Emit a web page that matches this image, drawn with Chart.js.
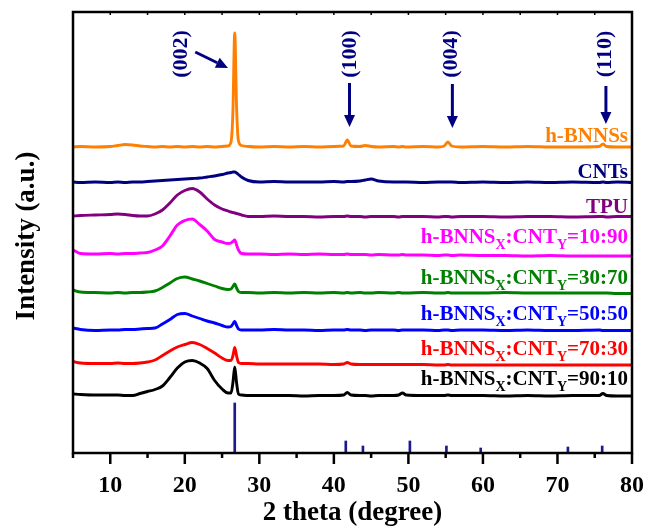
<!DOCTYPE html>
<html>
<head>
<meta charset="utf-8">
<script src="https://cdn.jsdelivr.net/npm/chart.js@4.4.0/dist/chart.umd.min.js"></script>
<style>
  html, body { margin: 0; padding: 0; background: #fff; }
  #wrap { width: 650px; height: 529px; }
</style>
</head>
<body>
<div id="wrap"><canvas id="xrd" width="650" height="529"></canvas></div>
<script>
// 2 theta grid shared by all the patterns
const twoTheta = [5, 6, 8, 10, 11, 12, 13, 14, 15, 16,
  17, 18, 19, 20, 21, 22, 23, 24, 25, 25.8,
  26.2, 26.45, 26.7, 26.95, 27.2, 27.6, 28.5, 30, 32, 34,
  36, 38, 40, 41.3, 41.8, 42.3, 43.5, 44.2, 45, 46,
  48, 48.7, 49.2, 49.7, 52, 54, 54.8, 55.3, 55.8, 57,
  60, 63, 66, 69, 72, 75.6, 76.1, 76.6, 78, 80];

// intensities (a.u., curves already offset)
const bnnsI = [306, 306.5, 306, 306.5, 307.5, 308.5, 308, 307, 306.5, 306,
  306.5, 306, 306.5, 306, 306.5, 306, 306.5, 306, 306.5, 307,
  311, 340, 420, 345, 312, 307.5, 306.5, 306, 306.5, 306,
  306.5, 306, 306.5, 307, 313, 307, 306.5, 307.5, 306.5, 306,
  306.5, 306, 306.5, 306, 306.5, 306, 307, 311, 307, 306,
  306.5, 306, 306.5, 306, 306, 306.5, 309, 306.5, 306, 306];
const cntI = [271, 270.5, 271, 270.5, 271, 270.5, 271, 271, 271.5, 272,
  272.5, 273, 273.5, 274, 274.5, 275, 276, 277, 278.5, 280,
  280.5, 281, 281, 280, 278.5, 276, 272.5, 271, 271.5, 271,
  271, 271, 271.5, 271, 271.5, 271.5, 272, 273, 274, 272,
  271, 271, 271, 271, 270.5, 271, 271, 271, 271, 270.5,
  271, 270.5, 271, 270.5, 271, 270.5, 271, 270.5, 271, 270.5];
const tpuI = [237, 237.5, 238, 238.5, 239, 238.5, 237.5, 237, 237, 239,
  243, 250, 258, 262.5, 264.5, 261, 254, 248, 244, 242,
  241, 240.5, 240, 239.5, 239, 238, 236.5, 236.5, 237, 236.5,
  236.5, 236, 236.5, 236.5, 237, 236.5, 236.5, 236, 236.5, 236.5,
  236.5, 236, 236.5, 236.5, 236.5, 236, 236.5, 236.5, 236, 236.5,
  236.5, 236, 236.5, 236.5, 236, 236.5, 236.5, 236, 236.5, 236.5];
const mix1090 = [203, 199.5, 199, 199.5, 199, 199.5, 199.5, 200, 200.5, 203,
  207, 217, 228, 232.5, 234, 228.5, 222, 213.5, 211, 209.5,
  210, 211.5, 213, 208, 203, 199.5, 199, 199, 198.5, 199,
  198.5, 199, 198.5, 198.5, 199, 198.5, 198.5, 198.5, 198, 198.5,
  198, 198, 198.5, 198, 198, 197.5, 198, 198, 197.5, 198,
  197.5, 197.5, 197, 197.5, 197, 197, 197, 197, 197, 197];
const mix3070 = [163, 161, 160.5, 160, 160.5, 160, 160.5, 160.5, 161, 162,
  165.5, 170, 174.5, 176, 174, 172, 169.5, 167, 164.5, 163.5,
  164, 166.5, 169, 165, 161.5, 160.5, 160.5, 160, 160.5, 160,
  160.5, 160, 160.5, 160, 160.5, 160, 160.5, 160, 160, 160.5,
  160, 160.5, 160, 160, 160.5, 160, 160, 160.5, 160, 160,
  160, 160.5, 160, 160, 160, 160, 160, 160, 159.5, 159.5];
const mix5050 = [125, 123.5, 122.5, 123, 123, 123.5, 123.5, 124, 124.5, 125,
  129, 133.5, 138.5, 139.5, 137, 134.5, 132, 130, 127.5, 126,
  126.5, 129, 131.5, 127.5, 124, 123, 123, 123, 123.5, 123,
  123, 122.5, 123, 123, 123.5, 123, 123, 122.5, 123, 123,
  123, 122.5, 123, 123, 123, 122.5, 123, 123, 122.5, 123,
  123, 122.5, 123, 122.5, 122.5, 123, 122.5, 122.5, 122.5, 122.5];
const mix7030 = [91.5, 90, 89.5, 89.5, 90, 89.5, 89.5, 90, 91, 93,
  97.5, 102, 106, 108.5, 110.5, 108.5, 104.5, 100, 95, 92.5,
  92.5, 97, 105.5, 97, 90.5, 89.5, 89.5, 89, 89, 89,
  89, 89, 88.5, 89, 90.5, 89, 88.5, 88.5, 88.5, 88.5,
  88.5, 88.5, 88.5, 88.5, 88.5, 88, 88, 88.5, 88, 88,
  88, 88, 88, 88, 88, 88, 88, 88, 88, 88];
const mix9010 = [59, 58.5, 58, 58, 58, 57.5, 57.5, 59.5, 61.5, 63.5,
  67, 75.5, 85, 91, 92.5, 90, 84.5, 72.5, 64, 60,
  60, 70, 86, 70, 59, 58, 57.5, 57.5, 57.5, 57.5,
  57, 57.5, 57.5, 58, 60.5, 58, 57.5, 57.5, 57, 57.5,
  57.5, 58, 60, 58, 57.5, 57.5, 57.5, 58, 57.5, 57.5,
  57.5, 57, 57.5, 57, 57.5, 57.5, 59.5, 57.5, 57, 57];

const seriesData = [bnnsI, cntI, tpuI, mix1090, mix3070, mix5050, mix7030, mix9010];
const seriesNames = ['h-BNNSs', 'CNTs', 'TPU',
  'h-BNNS_X:CNT_Y=10:90', 'h-BNNS_X:CNT_Y=30:70', 'h-BNNS_X:CNT_Y=50:50',
  'h-BNNS_X:CNT_Y=70:30', 'h-BNNS_X:CNT_Y=90:10'];
const seriesColors = ['#ff8000', '#000080', '#800080', '#ff00ff', '#008000', '#0000ff', '#ff0000', '#000000'];
const nameY = [311, 275, 240, 210, 169.5, 133, 98, 68];

// reference pattern sticks
const stickPos = [26.7, 41.6, 43.9, 50.2, 55.1, 59.7, 71.4, 76.0];
const stickH = [50, 12, 7, 12, 7, 5, 6, 7];

// x axis ticks
const majorTicks = [10, 20, 30, 40, 50, 60, 70, 80];
const minorTicks = [5, 15, 25, 35, 45, 55, 65, 75];

// plane annotations
const planes = ['(002)', '(100)', '(004)', '(110)'];
const planeX = [19.5, 42.2, 55.8, 76.4];
const planeMidY = 399;
const arrowFrom = [[21.4, 401], [42.1, 370], [55.9, 369], [76.5, 367]];
const arrowTo = [[25.8, 385], [42.1, 326], [55.9, 325], [76.5, 329]];

const serif = '"Liberation Serif", "Times New Roman", serif';

function drawName(ctx, name, right, base, color) {
  const parts = name.split(/_(\w)/);
  const big = 'bold 21px ' + serif, small = 'bold 14px ' + serif;
  let w = 0;
  parts.forEach((p, i) => { ctx.font = i % 2 ? small : big; w += ctx.measureText(p).width; });
  let x = right - w;
  ctx.fillStyle = color;
  ctx.textAlign = 'left';
  ctx.textBaseline = 'alphabetic';
  parts.forEach((p, i) => {
    ctx.font = i % 2 ? small : big;
    ctx.fillText(p, x, i % 2 ? base + 6 : base);
    x += ctx.measureText(p).width;
  });
}

function arrow(ctx, x1, y1, x2, y2) {
  const a = Math.atan2(y2 - y1, x2 - x1);
  const len = 12, hw = 5.5;
  const bx = x2 - len * Math.cos(a), by = y2 - len * Math.sin(a);
  ctx.beginPath();
  ctx.moveTo(x1, y1);
  ctx.lineTo(bx, by);
  ctx.stroke();
  ctx.beginPath();
  ctx.moveTo(x2, y2);
  ctx.lineTo(bx + hw * Math.sin(a), by - hw * Math.cos(a));
  ctx.lineTo(bx - hw * Math.sin(a), by + hw * Math.cos(a));
  ctx.closePath();
  ctx.fill();
}

const decor = {
  id: 'decor',
  afterDraw(chart) {
    const ctx = chart.ctx;
    const { left, right, top, bottom } = chart.chartArea;
    const xs = chart.scales.x, ys = chart.scales.y;
    ctx.save();

    // frame
    ctx.strokeStyle = '#000';
    ctx.lineWidth = 2.5;
    ctx.strokeRect(left, top, right - left, bottom - top);

    // ticks
    majorTicks.forEach(v => {
      const px = xs.getPixelForValue(v);
      ctx.beginPath(); ctx.moveTo(px, bottom); ctx.lineTo(px, bottom + 11); ctx.stroke();
    });
    minorTicks.forEach(v => {
      const px = xs.getPixelForValue(v);
      ctx.beginPath(); ctx.moveTo(px, bottom); ctx.lineTo(px, bottom + 5); ctx.stroke();
    });
    ctx.lineWidth = 1.5;
    majorTicks.concat(minorTicks).forEach(v => {
      const px = xs.getPixelForValue(v);
      ctx.beginPath(); ctx.moveTo(px, top); ctx.lineTo(px, top + 3); ctx.stroke();
    });

    // tick labels
    ctx.fillStyle = '#000';
    ctx.font = 'bold 24px ' + serif;
    ctx.textAlign = 'center';
    ctx.textBaseline = 'middle';
    majorTicks.forEach(v => ctx.fillText(String(v), xs.getPixelForValue(v), bottom + 33));

    // axis titles
    ctx.font = 'bold 27px ' + serif;
    ctx.fillText('2 theta (degree)', (left + right) / 2, bottom + 60);
    ctx.save();
    ctx.translate(27, 236);
    ctx.rotate(-Math.PI / 2);
    ctx.fillText('Intensity (a.u.)', 0, 0);
    ctx.restore();

    // series names
    seriesNames.forEach((n, i) => drawName(ctx, n, right - 4, ys.getPixelForValue(nameY[i]), seriesColors[i]));

    // plane annotations
    ctx.fillStyle = '#000080';
    ctx.strokeStyle = '#000080';
    ctx.lineWidth = 3;
    ctx.font = 'bold 22px ' + serif;
    ctx.textAlign = 'center';
    ctx.textBaseline = 'middle';
    planes.forEach((p, i) => {
      ctx.save();
      ctx.translate(xs.getPixelForValue(planeX[i]), ys.getPixelForValue(planeMidY));
      ctx.rotate(-Math.PI / 2);
      ctx.fillText(p, 0, 0);
      ctx.restore();
      arrow(ctx,
        xs.getPixelForValue(arrowFrom[i][0]), ys.getPixelForValue(arrowFrom[i][1]),
        xs.getPixelForValue(arrowTo[i][0]), ys.getPixelForValue(arrowTo[i][1]));
    });
    ctx.restore();
  }
};

const datasets = seriesData.map((arr, i) => ({
  type: 'line',
  label: seriesNames[i],
  data: twoTheta.map((t, k) => ({ x: t, y: arr[k] })),
  borderColor: seriesColors[i],
  borderWidth: 2.9,
  pointRadius: 0,
  cubicInterpolationMode: 'monotone',
  fill: false
}));
datasets.push({
  type: 'bar',
  label: 'ref',
  data: stickPos.map((p, k) => ({ x: p, y: stickH[k] })),
  backgroundColor: '#1a1a8c',
  barThickness: 2
});

new Chart(document.getElementById('xrd'), {
  type: 'line',
  data: { datasets },
  options: {
    responsive: false,
    animation: false,
    devicePixelRatio: 1,
    layout: { padding: { left: 73, right: 18, top: 12, bottom: 76 } },
    plugins: { legend: { display: false }, tooltip: { enabled: false } },
    scales: {
      x: { type: 'linear', min: 5, max: 80, offset: false, display: false, grid: { offset: false } },
      y: { type: 'linear', min: 0, max: 441, display: false }
    }
  },
  plugins: [decor]
});
</script>
</body>
</html>
